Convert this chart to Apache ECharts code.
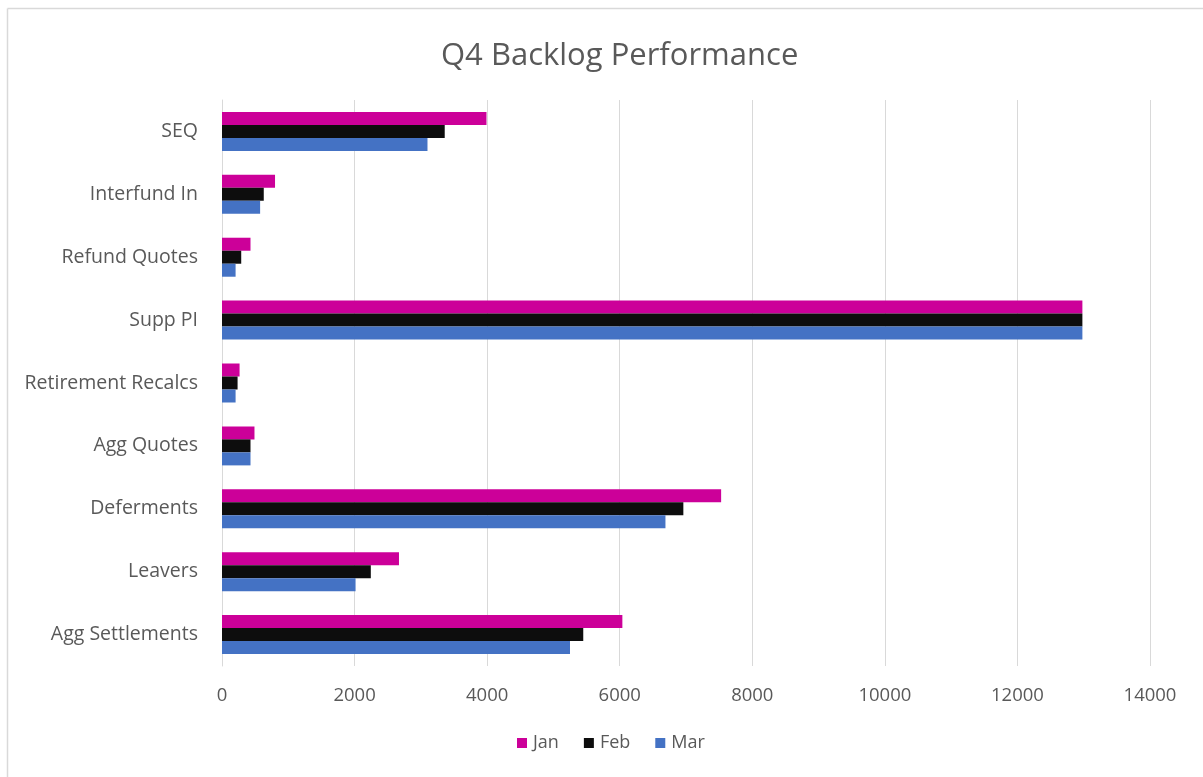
<!DOCTYPE html>
<html>
<head>
<meta charset="utf-8">
<title>Q4 Backlog Performance</title>
<script src="https://cdn.jsdelivr.net/npm/echarts@6/dist/echarts.min.js"></script>
<style>
  html, body { margin: 0; padding: 0; background: #fff; }
  #chart { width: 1203px; height: 777px; }
</style>
</head>
<body>
<div id="chart"></div>
<script>
// Backlog categories, listed top to bottom
const categories = [
  'SEQ', 'Interfund In', 'Refund Quotes', 'Supp PI', 'Retirement Recalcs',
  'Agg Quotes', 'Deferments', 'Leavers', 'Agg Settlements'
];

// Monthly backlog counts, same order as categories
const janValues = [3990, 800, 430, 12980, 265, 490, 7530, 2670, 6040];
const febValues = [3360, 630, 290, 12980, 235, 430, 6960, 2245, 5450];
const marValues = [3100, 575, 205, 12980, 205, 430, 6690, 2015, 5250];

const xTicks = { min: 0, max: 14000, interval: 2000 };

const seriesNames = ['Jan', 'Feb', 'Mar'];
const seriesColors = ['#CC0099', '#0D0D0D', '#4472C4'];
const seriesValues = [janValues, febValues, marValues];

const chart = echarts.init(document.getElementById('chart'), null, { renderer: 'canvas' });

const font = '"Open Sans", "Noto Sans", sans-serif';
const textGray = '#595959';

chart.setOption({
  animation: false,
  backgroundColor: '#fff',
  textStyle: { fontFamily: font },
  title: {
    text: 'Q4 Backlog Performance',
    left: 436,
    top: 36,
    textStyle: { fontFamily: font, fontSize: 31, fontWeight: 'normal', color: textGray }
  },
  legend: {
    data: seriesNames,
    bottom: 20,
    left: 512,
    itemWidth: 10,
    itemHeight: 10,
    itemGap: 25,
    icon: 'rect',
    textStyle: { fontFamily: font, fontSize: 18, color: textGray, padding: [0, 0, 0, 1] }
  },
  grid: { left: 222, right: 53, top: 100, bottom: 111, containLabel: false },
  xAxis: {
    type: 'value',
    min: xTicks.min,
    max: xTicks.max,
    interval: xTicks.interval,
    axisLine: { show: false },
    axisTick: { show: false },
    axisLabel: {
      color: textGray, fontSize: 18.5, fontFamily: font, margin: 20,
      formatter: (v) => String(v)
    },
    splitLine: { lineStyle: { color: '#D9D9D9', width: 1 } }
  },
  yAxis: {
    type: 'category',
    data: categories,
    inverse: true,
    axisLine: { show: true, lineStyle: { color: '#D9D9D9' } },
    axisTick: { show: false },
    axisLabel: { color: textGray, fontSize: 19.5, fontFamily: font, margin: 24 }
  },
  series: seriesNames.map((name, i) => ({
    name: name,
    type: 'bar',
    data: seriesValues[i],
    barWidth: 13,
    barGap: '0%',
    itemStyle: { color: seriesColors[i] }
  })),
  graphic: [
    { type: 'line', silent: true, shape: { x1: 7.5, y1: 8.5, x2: 1203, y2: 8.5 },
      style: { stroke: '#D9D9D9', lineWidth: 1.5 } },
    { type: 'line', silent: true, shape: { x1: 7.5, y1: 8.5, x2: 7.5, y2: 777 },
      style: { stroke: '#D9D9D9', lineWidth: 1.5 } }
  ]
});
</script>
</body>
</html>
